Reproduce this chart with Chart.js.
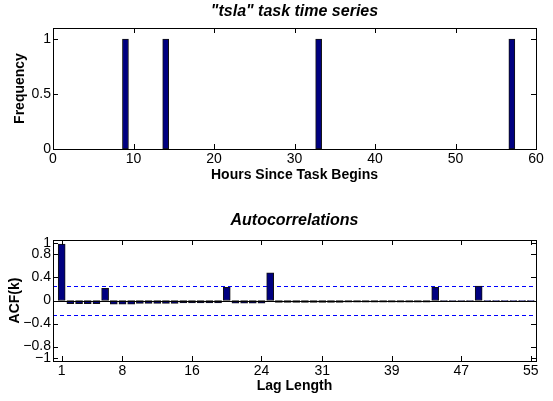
<!DOCTYPE html>
<html>
<head>
<meta charset="utf-8">
<script src="https://cdn.jsdelivr.net/npm/chart.js@4/dist/chart.umd.min.js"></script>
<style>
  html, body { margin: 0; padding: 0; background: #fff; }
  #wrap { position: relative; width: 553px; height: 401px; }
  canvas { position: absolute; left: 0; }
  #top { top: 0; }
  #bottom { top: 200px; }
</style>
</head>
<body>
<div id="wrap">
  <canvas id="top" width="553" height="200"></canvas>
  <canvas id="bottom" width="553" height="201"></canvas>
</div>
<script>
// top panel: task events per hour
const taskHours = [9, 14, 33, 57];
const taskFrequency = [1, 1, 1, 1];
const hourTicks = [0, 10, 20, 30, 40, 50, 60];
const frequencyTicks = [0, 0.5, 1];

// bottom panel: autocorrelations by lag
const lags = [1, 2, 3, 4, 5, 6, 7, 8, 9, 10, 11, 12, 13, 14, 15, 16, 17, 18, 19, 20,
  21, 22, 23, 24, 25, 26, 27, 28, 29, 30, 31, 32, 33, 34, 35, 36, 37, 38, 39, 40,
  41, 42, 43, 44, 45, 46, 47, 48, 49, 50, 51, 52, 53, 54, 55];
const acfValues = [0.98, -0.055, -0.055, -0.055, -0.055, 0.21, -0.065, -0.065, -0.065, -0.05,
  -0.05, -0.05, -0.05, -0.05, -0.04, -0.04, -0.04, -0.04, -0.04, 0.23,
  -0.045, -0.045, -0.045, -0.045, 0.48, -0.035, -0.035, -0.035, -0.035, -0.035,
  -0.035, -0.035, -0.035, -0.028, -0.028, -0.028, -0.028, -0.028, -0.028, -0.028,
  -0.028, -0.028, -0.028, 0.23, -0.02, -0.02, -0.02, -0.02, 0.25, -0.01,
  -0.01, -0.01, -0.01, -0.01, -0.01];
const lagTicks = [1, 8, 16, 24, 31, 39, 47, 55];
const acfTicks = [-1, -0.8, -0.4, 0, 0.4, 0.8, 1];
const confBound = 0.26;

const FONT = "'Liberation Sans', Arial, Helvetica, sans-serif";
const BAR_FILL = '#000080';

// matlab style box: frame, inward ticks, zero line, dashed bounds
const boxPlugin = {
  id: 'box',
  afterLayout(chart) {
    // centre the title over the plot area, not the whole canvas
    const t = chart.titleBlock;
    if (t) {
      t.left = chart.chartArea.left;
      t.right = chart.chartArea.right;
      t.width = t.right - t.left;
    }
  },
  beforeDatasetsDraw(chart, args, opts) {
    const {ctx, chartArea: a, scales: {y}} = chart;
    if (!opts.band) return;
    ctx.save();
    ctx.strokeStyle = '#0000ff';
    ctx.lineWidth = 1;
    ctx.setLineDash([4, 3]);
    [opts.band, -opts.band].forEach(v => {
      const py = Math.round(y.getPixelForValue(v)) + 0.5;
      ctx.beginPath();
      ctx.moveTo(a.left, py);
      ctx.lineTo(a.right, py);
      ctx.stroke();
    });
    ctx.restore();
  },
  afterDatasetsDraw(chart, args, opts) {
    const {ctx, chartArea: a, scales: {x, y}} = chart;
    ctx.save();
    ctx.strokeStyle = '#000';
    ctx.lineWidth = 1;
    if (opts.zeroLine) {
      const py = Math.round(y.getPixelForValue(0)) + 0.5;
      ctx.beginPath();
      ctx.moveTo(a.left, py);
      ctx.lineTo(a.right, py);
      ctx.stroke();
    }
    ctx.beginPath();
    x.ticks.forEach(t => {
      const px = Math.round(x.getPixelForValue(t.value)) + 0.5;
      ctx.moveTo(px, a.bottom);
      ctx.lineTo(px, a.bottom - 5);
      ctx.moveTo(px, a.top);
      ctx.lineTo(px, a.top + 5);
    });
    y.ticks.forEach(t => {
      const py = Math.round(y.getPixelForValue(t.value)) + 0.5;
      ctx.moveTo(a.left, py);
      ctx.lineTo(a.left + 5, py);
      ctx.moveTo(a.right, py);
      ctx.lineTo(a.right - 5, py);
    });
    ctx.stroke();
    ctx.strokeRect(a.left + 0.5, a.top + 0.5, a.right - a.left, a.bottom - a.top);
    ctx.restore();
  }
};

function fixedTicks(values) {
  return scale => { scale.ticks = values.map(v => ({value: v})); };
}

function minusLabel(v) {
  return String(v).replace('-', '\u2212');
}

function makePanel(canvasId, opts) {
  const ctx = document.getElementById(canvasId).getContext('2d');
  return new Chart(ctx, {
    type: 'bar',
    data: {
      datasets: [{
        data: opts.xs.map((v, i) => ({x: v, y: opts.ys[i]})),
        backgroundColor: BAR_FILL,
        borderColor: '#111',
        borderWidth: 1,
        borderSkipped: false,
        barThickness: opts.barWidth
      }]
    },
    options: {
      responsive: false,
      animation: false,
      layout: {padding: {left: 0, right: 17, top: 0, bottom: 0}},
      plugins: {
        legend: {display: false},
        tooltip: {enabled: false},
        title: {
          display: true,
          text: opts.title,
          color: '#000',
          font: {family: FONT, size: 16, weight: 'bold', style: 'italic'},
          padding: opts.titlePad
        },
        box: {band: opts.band, zeroLine: opts.zeroLine}
      },
      scales: {
        x: {
          type: 'linear',
          offset: false,
          min: opts.xMin,
          max: opts.xMax,
          grid: {display: false, drawTicks: false},
          border: {display: false},
          afterBuildTicks: fixedTicks(opts.xTicks),
          afterFit: s => { s.height = opts.xAxisHeight; },
          ticks: {
            color: '#000',
            padding: 2,
            maxRotation: 0,
            autoSkip: false,
            font: {family: FONT, size: 14}
          },
          title: {
            display: true,
            text: opts.xTitle,
            color: '#000',
            font: {family: FONT, size: 14, weight: 'bold'},
            padding: {top: 0, bottom: opts.xTitleBottom}
          }
        },
        y: {
          min: opts.yMin,
          max: opts.yMax,
          grid: {display: false, drawTicks: false},
          border: {display: false},
          afterBuildTicks: fixedTicks(opts.yTicks),
          afterFit: s => { s.width = 53; },
          ticks: {
            color: '#000',
            padding: 2,
            font: {family: FONT, size: 14},
            callback: v => minusLabel(v)
          },
          title: {
            display: true,
            text: opts.yTitle,
            color: '#000',
            font: {family: FONT, size: 14, weight: 'bold'},
            padding: {top: opts.yTitleLeft, bottom: 0}
          }
        }
      }
    },
    plugins: [boxPlugin]
  });
}

makePanel('top', {
  xs: taskHours, ys: taskFrequency, barWidth: 6,
  title: '"tsla" task time series',
  titlePad: {top: 1.5, bottom: 7.3},
  xMin: 0, xMax: 60, xTicks: hourTicks,
  yMin: 0, yMax: 1.1, yTicks: frequencyTicks,
  xTitle: 'Hours Since Task Begins', yTitle: 'Frequency',
  xAxisHeight: 51, xTitleBottom: 16, yTitleLeft: 11.5,
  band: null, zeroLine: false
});

makePanel('bottom', {
  xs: lags, ys: acfValues, barWidth: 7,
  title: 'Autocorrelations',
  titlePad: {top: 11, bottom: 9.8},
  xMin: 0, xMax: 55.6, xTicks: lagTicks,
  yMin: -1.05, yMax: 1.05, yTicks: acfTicks,
  xTitle: 'Lag Length', yTitle: 'ACF(k)',
  xAxisHeight: 40, xTitleBottom: 6, yTitleLeft: 6.5,
  band: confBound, zeroLine: true
});
</script>
</body>
</html>
